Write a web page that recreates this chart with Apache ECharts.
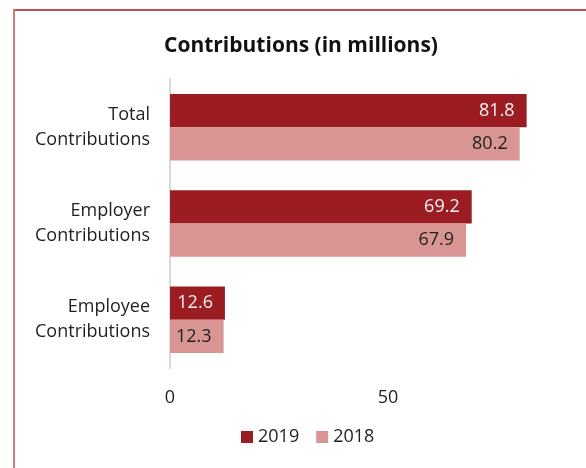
<!DOCTYPE html>
<html>
<head>
<meta charset="utf-8">
<script src="https://cdn.jsdelivr.net/npm/echarts@6/dist/echarts.min.js"></script>
<style>
  html, body { margin: 0; padding: 0; background: #fff; }
  #chart { width: 586px; height: 468px; }
</style>
</head>
<body>
<div id="chart"></div>
<script>
// Contribution categories, top to bottom
const categories = ['Total\nContributions', 'Employer\nContributions', 'Employee\nContributions'];
// Values in millions
const values2019 = [81.8, 69.2, 12.6];
const values2018 = [80.2, 67.9, 12.3];
const seriesNames = ['2019', '2018'];
const xTicks = [0, 50, 100];

const FONT = '"Open Sans", "Noto Sans", sans-serif';
const BORDER = '#c0504d';
const chart = echarts.init(document.getElementById('chart'), null, { renderer: 'canvas' });

function barSeries(name, data, color, labelColor) {
  return {
    name: name,
    type: 'bar',
    data: data,
    barGap: '0%',
    barCategoryGap: '31%',
    itemStyle: { color: color },
    label: {
      show: true,
      position: 'insideRight',
      distance: 12,
      color: labelColor,
      fontFamily: FONT,
      fontSize: 18,
      formatter: p => p.value.toFixed(1)
    }
  };
}

chart.setOption({
  animation: false,
  backgroundColor: '#ffffff',
  title: {
    text: 'Contributions (in millions)',
    left: 296,
    textAlign: 'center',
    top: 31,
    textStyle: { fontFamily: FONT, fontWeight: 'bold', fontSize: 21, color: '#111' }
  },
  legend: {
    data: seriesNames,
    top: 428,
    left: 241,
    padding: 0,
    icon: 'rect',
    itemWidth: 12,
    itemHeight: 12,
    itemGap: 17,
    textStyle: { fontFamily: FONT, fontSize: 18, color: '#1f1f1f', padding: [0, 0, 0, 0] }
  },
  grid: { left: 170, top: 79, width: 436, height: 289, containLabel: false, outerBoundsMode: 'none' },
  xAxis: {
    type: 'value',
    min: xTicks[0],
    max: xTicks[xTicks.length - 1],
    interval: xTicks[1] - xTicks[0],
    axisLine: { show: false },
    axisTick: { show: false },
    splitLine: { show: false },
    axisLabel: { fontFamily: FONT, fontSize: 18, color: '#1f1f1f', margin: 21 }
  },
  yAxis: {
    type: 'category',
    data: categories,
    inverse: true,
    axisLine: { show: true, lineStyle: { color: '#d9d9d9', width: 2 } },
    axisTick: { show: false },
    axisLabel: {
      fontFamily: FONT, fontSize: 18, color: '#1f1f1f',
      margin: 20, lineHeight: 25, align: 'right'
    }
  },
  series: [
    barSeries(seriesNames[0], values2019, '#9b1d22', '#f2f2f2'),
    barSeries(seriesNames[1], values2018, '#d99594', '#1f1f1f')
  ],
  // Frame around the chart area: top and left edges
  graphic: [
    { type: 'line', silent: true, shape: { x1: 13, y1: 10, x2: 586, y2: 10 },
      style: { stroke: BORDER, lineWidth: 2 } },
    { type: 'line', silent: true, shape: { x1: 14, y1: 9, x2: 14, y2: 468 },
      style: { stroke: '#d07a7c', lineWidth: 2 } }
  ]
});
</script>
</body>
</html>
